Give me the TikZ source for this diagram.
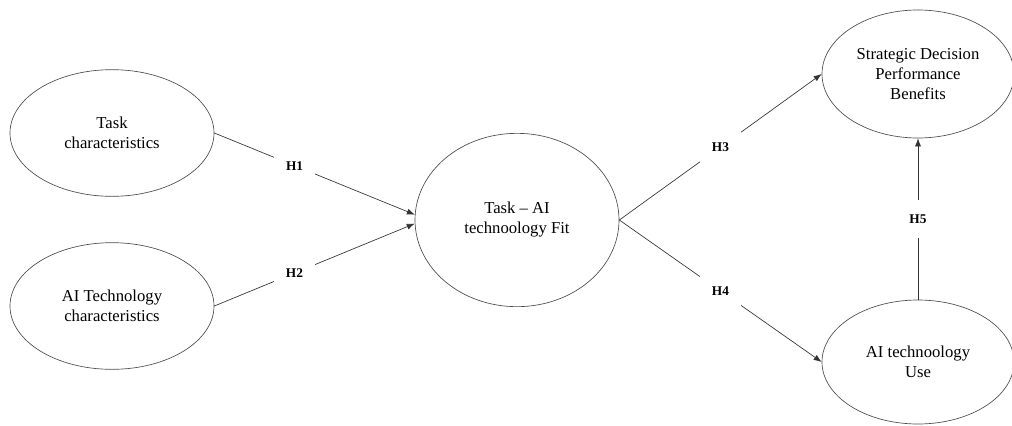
\documentclass[tikz,border=0pt]{standalone}
\usepackage{fontspec}
\setmainfont{Liberation Serif}
\usetikzlibrary{shapes.geometric,arrows.meta}
\begin{document}
\begin{tikzpicture}[x=.75pt,y=-.75pt,line width=.5pt,>={Latex[length=6pt,width=4.5pt]},
  line cap=round,line join=round,
  font=\fontsize{12.5}{15}\selectfont,
  construct/.style={ellipse,draw=black!70,inner sep=0pt,align=center},
  hyp/.style={fill=white,inner xsep=9pt,inner ysep=11pt,
    font=\fontsize{10}{12}\selectfont\bfseries},
  path/.style={draw=black!80,->}]
\useasboundingbox (0,0) rectangle (1012,425);
\node[construct,minimum width=153pt,minimum height=95pt] (task) at (112,133)
  {Task\\characteristics};
\node[construct,minimum width=153pt,minimum height=95pt] (tech) at (112,306)
  {AI Technology\\characteristics};
\node[construct,minimum width=153pt,minimum height=130pt] (fit) at (517,220)
  {Task -- AI\\technoology Fit};
\node[construct,minimum width=144pt,minimum height=96pt] (perf) at (918,74)
  {Strategic Decision\\Performance\\Benefits};
\node[construct,minimum width=144pt,minimum height=93pt] (use) at (918,362)
  {AI technoology\\Use};
\draw[path] (task.east) -- node[hyp,pos=.4] {H1} (fit.177);
\draw[path] (tech.east) -- node[hyp,pos=.4] {H2} (fit.182);
\draw[path] (fit.east) -- node[hyp] {H3} (perf.west);
\draw[path] (fit.east) -- node[hyp] {H4} (use.west);
\draw[path] (use.north) -- node[hyp] {H5} (perf.south);
\end{tikzpicture}
\end{document}
